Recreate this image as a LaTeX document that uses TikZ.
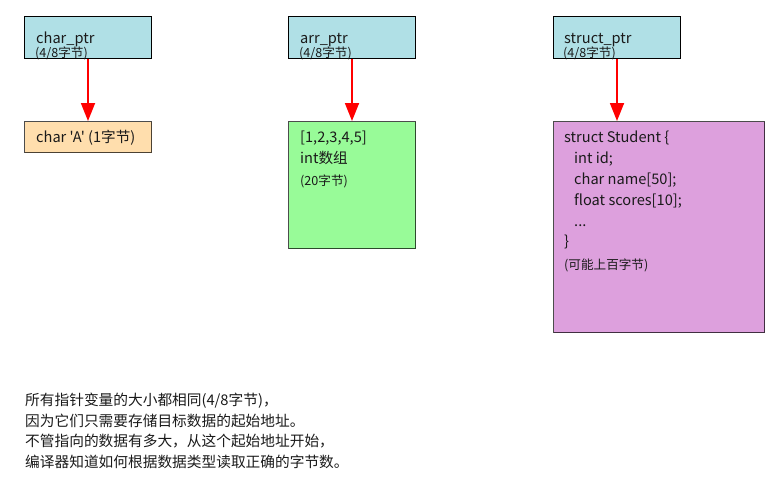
\documentclass[tikz,border=0pt]{standalone}
\usepackage{fontspec}
\setmainfont{Noto Sans CJK SC}
\newfontfamily\cjkplain{Noto Sans CJK SC}
\usetikzlibrary{arrows.meta}
\definecolor{ptrfill}{HTML}{B0E0E6}
\definecolor{charfill}{HTML}{FFDEAD}
\definecolor{arrfill}{HTML}{98FB98}
\definecolor{structfill}{HTML}{DDA0DD}
\definecolor{txt}{HTML}{1A1A1A}
\tikzset{
  ptrbox/.style={draw=black, line width=1pt, fill=ptrfill, anchor=north west, inner sep=0pt, minimum width=127pt, minimum height=42pt},
  valbox/.style={draw=black, draw opacity=0.7, line width=1.3pt, anchor=north west, inner sep=0pt},
  lbl/.style={anchor=base west, inner sep=0pt, text=txt, font=\cjkplain\fontsize{14.6}{16}\selectfont},
  small/.style={anchor=base west, inner sep=0pt, text=txt, font=\cjkplain\fontsize{12.6}{14}\selectfont},
  note/.style={anchor=base west, inner sep=0pt, text=txt, font=\cjkplain\fontsize{14.7}{16}\selectfont},
  ptrarrow/.style={draw=red, line width=1.8pt, -{Triangle[length=18pt,width=14pt]}}
}
\begin{document}
\begin{tikzpicture}[x=1pt,y=-1pt]
\useasboundingbox (0,0) rectangle (773,485);
% pointer boxes
\node[ptrbox] (cp) at (24,16) {};
\node[ptrbox] (ap) at (288,16) {};
\node[ptrbox] (sp) at (553,16) {};
\node[lbl] (cpt) at (36,43) {char\_ptr};
\node[small] (cps) at (35,57) {(4/8字节)};
\node[lbl] (apt) at (300,43) {arr\_ptr};
\node[small] (aps) at (299,57) {(4/8字节)};
\node[lbl] (spt) at (564,43) {struct\_ptr};
\node[small] (sps) at (563,57) {(4/8字节)};
% value boxes
\node[valbox, fill=charfill, minimum width=127pt, minimum height=31pt] (cb) at (24,121) {};
\node[valbox, fill=arrfill, minimum width=127pt, minimum height=127pt] (ab) at (288,121) {};
\node[valbox, fill=structfill, minimum width=211pt, minimum height=211pt] (sb) at (553,121) {};
\node[lbl] (cbt) at (36,142) {char 'A' (1字节)};
\node[lbl] (ab1) at (300,142) {[1,2,3,4,5]};
\node[lbl] (ab2) at (300,163) {int数组};
\node[small] (ab3) at (300,185) {(20字节)};
\node[lbl] (sb1) at (564,142) {struct Student \{};
\node[lbl] (sb2) at (574,163) {int id;};
\node[lbl] (sb3) at (574,184) {char name[50];};
\node[lbl] (sb4) at (574,205) {float scores[10];};
\node[lbl] (sb5) at (574,226) {...};
\node[lbl] (sb6) at (564,246) {\}};
\node[small] (sb7) at (564,269) {(可能上百字节)};
% arrows
\draw[ptrarrow] (cp.south) -- (cp.south |- cb.north);
\draw[ptrarrow] (ap.south) -- (ap.south |- ab.north);
\draw[ptrarrow] (sp.south) -- (sp.south |- sb.north);
% note
\node[note] (n1) at (25,405) {所有指针变量的大小都相同(4/8字节)，};
\node[note] (n2) at (25,426) {因为它们只需要存储目标数据的起始地址。};
\node[note] (n3) at (25,446) {不管指向的数据有多大，从这个起始地址开始，};
\node[note] (n4) at (25,467) {编译器知道如何根据数据类型读取正确的字节数。};
\end{tikzpicture}
\end{document}
